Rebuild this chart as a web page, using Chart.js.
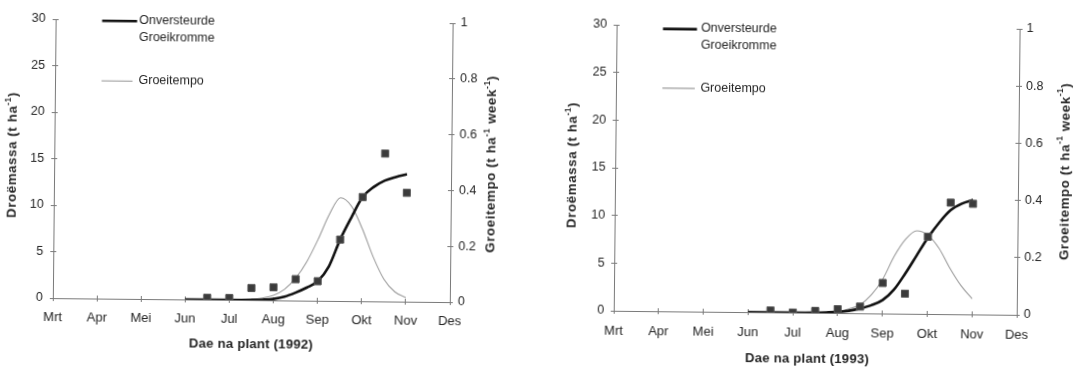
<!DOCTYPE html>
<html lang="af">
<head>
<meta charset="utf-8">
<title>Droëmassa en groeitempo, 1992 en 1993</title>
<script src="https://cdn.jsdelivr.net/npm/chart.js@4.4.1/dist/chart.umd.min.js"></script>
<style>
  html, body { margin: 0; padding: 0; background: #fff; overflow: hidden; }
  #page {
    position: relative; width: 1077px; height: 369px;
    transform: rotate(0.58deg); transform-origin: 538.5px 184.5px;
  }
  #page canvas { position: absolute; top: 0; }
  #c1992 { left: 0; }
  #c1993 { left: 538px; }
</style>
</head>
<body>
<div id="page">
  <canvas id="c1992" width="538" height="369"></canvas>
  <canvas id="c1993" width="539" height="369"></canvas>
</div>
<script>
// Months after 1 March (Mrt = 0 ... Des = 9)
const monthLabels = ['Mrt', 'Apr', 'Mei', 'Jun', 'Jul', 'Aug', 'Sep', 'Okt', 'Nov', 'Des'];

// Harvest samples (t ha-1), every half month
const sampleMonths = [3.5, 4, 4.5, 5, 5.5, 6, 6.5, 7, 7.5, 8];
const massa1992 = [0.2, 0.2, 1.3, 1.4, 2.3, 2.1, 6.6, 11.2, 15.9, 11.7];
const massa1993 = [0.2, 0.0, 0.2, 0.4, 0.7, 3.2, 2.1, 8.1, 11.7, 11.6];

// Fitted undisturbed growth curve (t ha-1)
const krommeMonths = [3, 3.5, 4, 4.5, 4.75, 5, 5.25, 5.5, 5.75, 6, 6.25, 6.5, 6.75, 7, 7.25, 7.5, 7.75, 8];
const kromme1992 = [0, 0, 0, 0.02, 0.06, 0.15, 0.4, 0.85, 1.4, 2.1, 3.7, 6.6, 9.0, 11.2, 12.3, 13.0, 13.4, 13.7];
const kromme1993 = [0, 0, 0, 0.02, 0.06, 0.12, 0.25, 0.5, 0.85, 1.4, 2.5, 4.2, 6.1, 8.0, 9.6, 10.9, 11.6, 12.0];

// Growth rate (t ha-1 week-1)
const tempoMonths1992 = [4.5, 4.75, 5, 5.25, 5.5, 5.75, 6, 6.25, 6.5, 6.75, 7, 7.25, 7.5, 7.75, 8];
const tempo1992 = [0.003, 0.008, 0.018, 0.04, 0.08, 0.14, 0.22, 0.31, 0.37, 0.34, 0.26, 0.16, 0.08, 0.035, 0.015];
const tempoMonths1993 = [4.75, 5, 5.25, 5.5, 5.75, 6, 6.25, 6.5, 6.75, 7, 7.25, 7.5, 7.75, 8];
const tempo1993 = [0.002, 0.006, 0.015, 0.03, 0.065, 0.12, 0.2, 0.26, 0.29, 0.275, 0.23, 0.16, 0.1, 0.055];

const FONT = '"Liberation Sans", Arial, Helvetica, sans-serif';
const INK = '#262626';
const AXIS = '#7a7a7a';
const THICK = '#111111';
const THIN = '#9c9c9c';

const toPoints = (xs, ys) => xs.map((x, i) => ({ x, y: ys[i] }));
const align = p => Math.round(p - 0.5) + 0.5;

// Inner halves of the tick marks, so that every tick crosses its axis
const crossTicks = {
  id: 'crossTicks',
  beforeDatasetsDraw(chart) {
    const { ctx, chartArea: a, scales } = chart;
    ctx.save();
    ctx.strokeStyle = AXIS;
    ctx.lineWidth = 1;
    ctx.beginPath();
    scales.x.ticks.forEach(t => {
      const p = align(scales.x.getPixelForValue(t.value));
      ctx.moveTo(p, a.bottom - 3); ctx.lineTo(p, a.bottom);
    });
    scales.y.ticks.forEach(t => {
      const p = align(scales.y.getPixelForValue(t.value));
      ctx.moveTo(a.left, p); ctx.lineTo(a.left + 3, p);
    });
    scales.y1.ticks.forEach(t => {
      const p = align(scales.y1.getPixelForValue(t.value));
      ctx.moveTo(a.right - 3, p); ctx.lineTo(a.right, p);
    });
    ctx.stroke();
    ctx.restore();
  }
};

// Text made of normal and superscript parts, centred on (cx, cy)
function drawRich(ctx, parts, cx, cy, rotation, size, spacing) {
  ctx.save();
  ctx.translate(cx, cy);
  ctx.rotate(rotation);
  ctx.textAlign = 'left';
  ctx.textBaseline = 'middle';
  ctx.letterSpacing = spacing + 'px';
  const fontOf = p => `bold ${p.sup ? size * 0.62 : size}px ${FONT}`;
  let total = 0;
  const widths = parts.map(p => { ctx.font = fontOf(p); const w = ctx.measureText(p.t).width; total += w; return w; });
  let x = -total / 2;
  parts.forEach((p, i) => {
    ctx.font = fontOf(p);
    ctx.fillText(p.t, x, p.sup ? -size * 0.36 : 0);
    x += widths[i];
  });
  ctx.restore();
}

// Axis titles and the legend
const decor = {
  id: 'decor',
  afterDraw(chart, args, o) {
    const ctx = chart.ctx;
    ctx.save();
    ctx.fillStyle = INK;

    drawRich(ctx, [{ t: 'Droëmassa (t ha' }, { t: '-1', sup: true }, { t: ')' }],
      o.leftTitle.x, o.leftTitle.y, -Math.PI / 2, 13.3, 0.6);
    drawRich(ctx, [{ t: 'Groeitempo (t ha' }, { t: '-1', sup: true }, { t: ' week' }, { t: '-1', sup: true }, { t: ')' }],
      o.rightTitle.x, o.rightTitle.y, -Math.PI / 2, 13.3, 0.6);
    drawRich(ctx, [{ t: o.xTitle.text }], o.xTitle.x, o.xTitle.y, 0, 13.2, 0.2);

    const L = o.legend;
    const ds = chart.data.datasets;
    ctx.lineCap = 'butt';
    ctx.strokeStyle = THICK; ctx.lineWidth = 2.6;
    ctx.beginPath(); ctx.moveTo(L.x0, L.thickY); ctx.lineTo(L.x1, L.thickY); ctx.stroke();
    ctx.strokeStyle = THIN; ctx.lineWidth = 1.1;
    ctx.beginPath(); ctx.moveTo(L.x0, L.thinY); ctx.lineTo(L.thinX1, L.thinY); ctx.stroke();

    ctx.font = `12.5px ${FONT}`;
    ctx.textAlign = 'left';
    ctx.textBaseline = 'middle';
    const krommeLabel = ds[1].label;
    ctx.fillText(krommeLabel[0], L.textX, L.text1Y);
    ctx.fillText(krommeLabel[1], L.textX, L.text2Y);
    ctx.fillText(ds[0].label, L.textX, L.text3Y);
    ctx.restore();
  }
};

function makeChart(id, c) {
  const tickFont = { family: FONT, size: 12.5 };
  return new Chart(document.getElementById(id), {
    type: 'line',
    data: {
      datasets: [
        {
          label: 'Groeitempo',
          data: toPoints(c.tempoMonths, c.tempo),
          yAxisID: 'y1',
          borderColor: THIN, borderWidth: 1.1,
          pointRadius: 0, cubicInterpolationMode: 'monotone', fill: false, order: 3
        },
        {
          label: ['Onversteurde', 'Groeikromme'],
          data: toPoints(krommeMonths, c.kromme),
          yAxisID: 'y',
          borderColor: THICK, borderWidth: 2.6,
          pointRadius: 0, cubicInterpolationMode: 'monotone', fill: false, order: 2
        },
        {
          label: 'Droëmassa',
          data: toPoints(sampleMonths, c.massa),
          yAxisID: 'y',
          showLine: false,
          pointStyle: 'rect', pointRadius: 5,
          pointBackgroundColor: '#3b3b3b', pointBorderColor: '#555555', pointBorderWidth: 1,
          order: 1
        }
      ]
    },
    options: {
      responsive: false,
      animation: false,
      devicePixelRatio: 1,
      events: [],
      layout: { padding: { top: c.top, left: 0, right: 0, bottom: 0 } },
      plugins: {
        legend: { display: false },
        tooltip: { enabled: false },
        decor: c.decor
      },
      scales: {
        x: {
          type: 'linear', position: 'bottom', min: 0, max: 9,
          afterFit: s => { s.height = c.xHeight; },
          ticks: {
            stepSize: 1, autoSkip: false, maxRotation: 0, padding: c.xPad,
            color: INK, font: { family: FONT, size: 13 },
            callback: v => monthLabels[v]
          },
          grid: { drawOnChartArea: false, tickLength: 3, color: AXIS, lineWidth: 1 },
          border: { color: AXIS, width: 1 }
        },
        y: {
          type: 'linear', position: 'left', min: 0, max: 30,
          afterFit: s => { s.width = c.yWidth; },
          ticks: { stepSize: 5, padding: c.yPad, color: INK, font: tickFont, callback: v => String(v) },
          grid: { drawOnChartArea: false, tickLength: 3, color: AXIS, lineWidth: 1 },
          border: { color: AXIS, width: 1 }
        },
        y1: {
          type: 'linear', position: 'right', min: 0, max: 1,
          afterFit: s => { s.width = c.y1Width; },
          ticks: { stepSize: 0.2, padding: c.y1Pad, color: INK, font: tickFont, callback: v => String(Math.round(v * 10) / 10) },
          grid: { drawOnChartArea: false, tickLength: 3, color: AXIS, lineWidth: 1 },
          border: { color: AXIS, width: 1 }
        }
      }
    },
    plugins: [crossTicks, decor]
  });
}

makeChart('c1992', {
  massa: massa1992, kromme: kromme1992, tempoMonths: tempoMonths1992, tempo: tempo1992,
  top: 24, yWidth: 54, y1Width: 87, xHeight: 66, xPad: 9, yPad: 7, y1Pad: 5,
  decor: {
    leftTitle: { x: 12.7, y: 160.3 },
    rightTitle: { x: 491.5, y: 164.5 },
    xTitle: { x: 252.6, y: 346.9, text: 'Dae na plant (1992)' },
    legend: { x0: 100.5, x1: 135.5, thickY: 25.3, thinX1: 131.5, thinY: 85.3,
              textX: 137.5, text1Y: 24.9, text2Y: 41.9, text3Y: 84.3 }
  }
});

makeChart('c1993', {
  massa: massa1993, kromme: kromme1993, tempoMonths: tempoMonths1993, tempo: tempo1993,
  top: 24, yWidth: 77, y1Width: 59, xHeight: 59, xPad: 10, yPad: 6.5, y1Pad: 4,
  decor: {
    leftTitle: { x: 34.8, y: 164.7 },
    rightTitle: { x: 526.9, y: 166.2 },
    xTitle: { x: 270.8, y: 356.3, text: 'Dae na plant (1993)' },
    legend: { x0: 123.4, x1: 157.4, thickY: 27.6, thinX1: 155.8, thinY: 86.9,
              textX: 161.4, text1Y: 27.0, text2Y: 44.0, text3Y: 87.0 }
  }
});
</script>
</body>
</html>
